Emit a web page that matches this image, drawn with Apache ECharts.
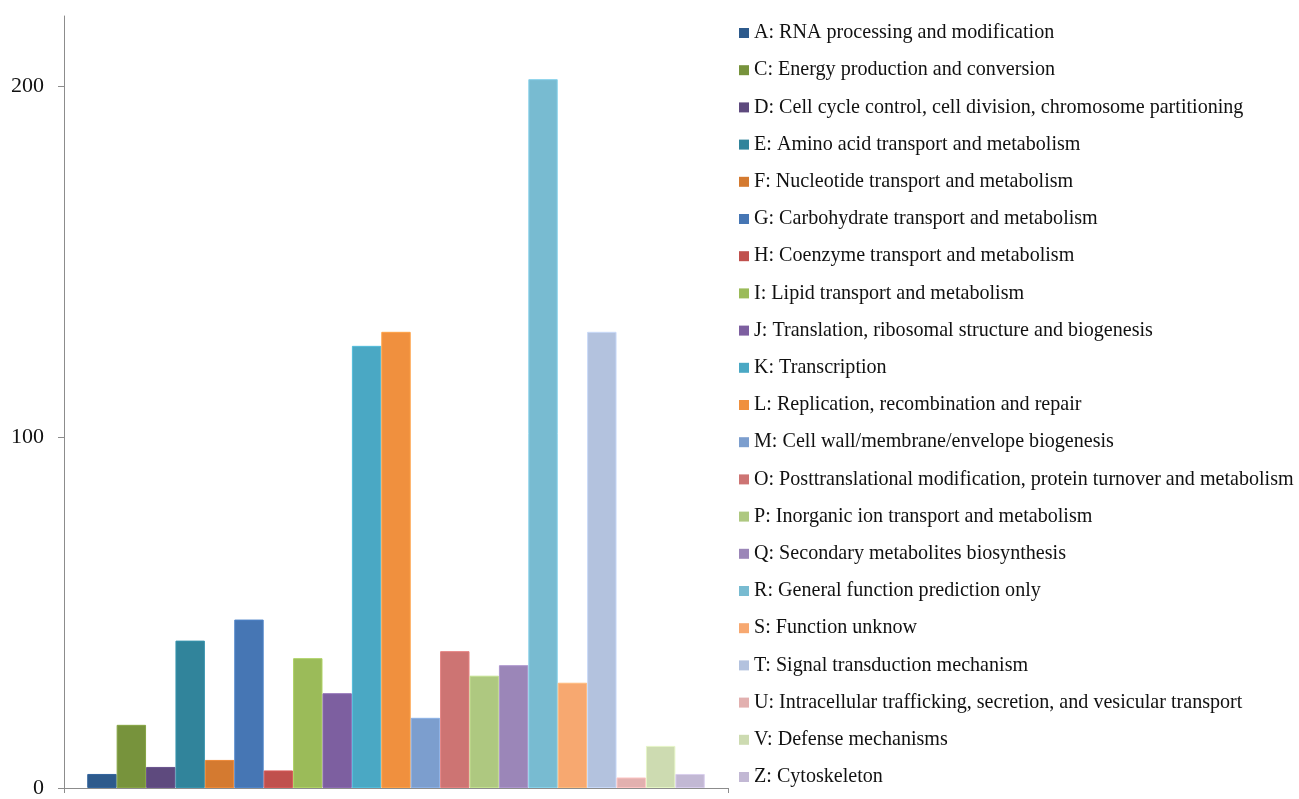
<!DOCTYPE html>
<html>
<head>
<meta charset="utf-8">
<title>COG functional classification</title>
<script src="https://cdn.jsdelivr.net/npm/echarts@6/dist/echarts.min.js"></script>
<style>
  html, body { margin: 0; padding: 0; background: #ffffff; }
  #chart { width: 1299px; height: 799px; }
</style>
</head>
<body>
<div id="chart"></div>
<script>
// COG functional classes, gene counts and bar colours
const cogCodes = ['A','C','D','E','F','G','H','I','J','K','L','M','O','P','Q','R','S','T','U','V','Z'];
const cogNames = [
  'RNA processing and modification',
  'Energy production and conversion',
  'Cell cycle control, cell division, chromosome partitioning',
  'Amino acid transport and metabolism',
  'Nucleotide transport and metabolism',
  'Carbohydrate transport and metabolism',
  'Coenzyme transport and metabolism',
  'Lipid transport and metabolism',
  'Translation, ribosomal structure and biogenesis',
  'Transcription',
  'Replication, recombination and repair',
  'Cell wall/membrane/envelope biogenesis',
  'Posttranslational modification, protein turnover and metabolism',
  'Inorganic ion transport and metabolism',
  'Secondary metabolites biosynthesis',
  'General function prediction only',
  'Function unknow',
  'Signal transduction mechanism',
  'Intracellular trafficking, secretion, and vesicular transport',
  'Defense mechanisms',
  'Cytoskeleton'
];
const geneCounts = [4, 18, 6, 42, 8, 48, 5, 37, 27, 126, 130, 20, 39, 32, 35, 202, 30, 130, 3, 12, 4];
const barColors = [
  '#2D5A8C', '#77933C', '#5E4A7E', '#31849B', '#D47A30', '#4676B4', '#C0504D',
  '#9BBB59', '#7D5FA0', '#4AA8C4', '#F0903E', '#7C9ECE', '#CD7473', '#AEC880',
  '#9B86B8', '#78BBD1', '#F7A870', '#B3C2DE', '#E2B0AF', '#CDDBB1', '#C2B8D4'
];
const yTicks = [0, 100, 200];

const serif = '"Liberation Serif", "Times New Roman", serif';

const series = cogCodes.map((code, i) => ({
  name: code + ': ' + cogNames[i],
  type: 'bar',
  data: [geneCounts[i]],
  barGap: '0%',
  barCategoryGap: '7%',
  itemStyle: {
    color: barColors[i],
    borderColor: echarts.color.lift(barColors[i], -0.12),
    borderWidth: 1
  }
}));

const chart = echarts.init(document.getElementById('chart'), null, { renderer: 'canvas' });
chart.setOption({
  animation: false,
  backgroundColor: '#ffffff',
  grid: { left: 64, right: 571, top: 16, bottom: 11, containLabel: false },
  legend: {
    orient: 'vertical',
    left: 734,
    top: 18,
    itemWidth: 10,
    itemHeight: 10,
    itemGap: 17.2,
    icon: 'rect',
    selectedMode: false,
    itemStyle: { borderWidth: 0 },
    textStyle: { fontFamily: serif, fontSize: 20.1, color: '#111', lineHeight: 20 }
  },
  xAxis: {
    type: 'category',
    data: ['COG'],
    axisLine: { lineStyle: { color: '#8c8c8c', width: 1 } },
    axisTick: { show: true, length: 5, lineStyle: { color: '#8c8c8c' } },
    axisLabel: { show: false },
    splitLine: { show: false }
  },
  yAxis: {
    type: 'value',
    min: 0,
    max: 220,
    interval: 100,
    axisLine: { show: true, lineStyle: { color: '#8c8c8c', width: 1 } },
    axisTick: { show: true, length: 6, lineStyle: { color: '#8c8c8c' }, customValues: yTicks },
    axisLabel: {
      customValues: yTicks,
      margin: 20,
      fontFamily: serif,
      fontSize: 22,
      color: '#111'
    },
    splitLine: { show: false }
  },
  series: series
});
</script>
</body>
</html>
